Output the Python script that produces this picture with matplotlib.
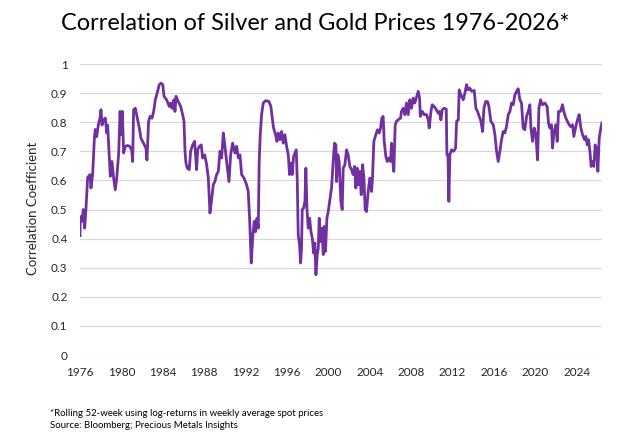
import matplotlib
matplotlib.use("Agg")
import matplotlib.pyplot as plt
import numpy as np

plt.rcParams['font.family'] = ['Lato', 'DejaVu Sans']

# rolling correlation (decimal year, coefficient)
years = [
    1976.00, 1976.03, 1976.19, 1976.32, 1976.45, 1976.58, 1976.74, 1976.97, 1977.06, 1977.22,
    1977.39, 1977.48, 1977.61, 1977.77, 1977.93, 1978.03, 1978.13, 1978.25, 1978.45, 1978.58,
    1978.67, 1978.83, 1978.93, 1979.09, 1979.25, 1979.41, 1979.55, 1979.74, 1979.87, 1980.00,
    1980.09, 1980.22, 1980.38, 1980.61, 1980.80, 1980.99, 1981.09, 1981.18, 1981.35, 1981.51,
    1981.73, 1981.89, 1982.05, 1982.22, 1982.38, 1982.47, 1982.63, 1982.77, 1982.96, 1983.12,
    1983.28, 1983.50, 1983.66, 1983.82,
    1984.00, 1984.12, 1984.37, 1984.63, 1984.76, 1984.89, 1985.08, 1985.18, 1985.28, 1985.50,
    1985.73, 1985.92, 1986.05, 1986.15, 1986.24, 1986.37, 1986.56, 1986.69, 1986.89, 1987.08,
    1987.27, 1987.37, 1987.53, 1987.72, 1987.85, 1988.05, 1988.24, 1988.40, 1988.56, 1988.72,
    1988.88, 1989.04, 1989.20, 1989.37, 1989.53, 1989.69, 1989.85, 1990.01, 1990.17, 1990.40,
    1990.56, 1990.75, 1990.98, 1991.14, 1991.30, 1991.46, 1991.62, 1991.85,
    1992.10, 1992.26, 1992.39, 1992.55, 1992.71, 1992.84, 1992.97, 1993.10, 1993.23, 1993.32,
    1993.42, 1993.55, 1993.71, 1993.94, 1994.26, 1994.45, 1994.58, 1994.71, 1994.90, 1995.03,
    1995.16, 1995.32, 1995.48, 1995.64, 1995.80, 1995.97, 1996.13, 1996.25, 1996.38, 1996.51,
    1996.64, 1996.77, 1996.90, 1997.00, 1997.09, 1997.22, 1997.32, 1997.41, 1997.48, 1997.61,
    1997.74, 1997.83, 1997.93, 1998.06, 1998.19, 1998.32, 1998.45, 1998.58, 1998.70, 1998.80,
    1998.93, 1999.03, 1999.12, 1999.25, 1999.38, 1999.51, 1999.60, 1999.73, 1999.86, 1999.99,
    2000.31, 2000.47, 2000.60, 2000.73, 2000.79, 2000.92, 2001.05, 2001.21, 2001.34, 2001.44,
    2001.60, 2001.76, 2001.92, 2002.08, 2002.24, 2002.40, 2002.53, 2002.66, 2002.79, 2002.92,
    2003.05, 2003.18, 2003.31, 2003.44, 2003.56, 2003.69, 2003.85, 2004.01, 2004.18, 2004.27,
    2004.40, 2004.59, 2004.75, 2004.92, 2005.05, 2005.17, 2005.30, 2005.40, 2005.56, 2005.69,
    2005.85, 2006.01, 2006.11, 2006.20, 2006.33, 2006.46, 2006.59, 2006.75, 2006.98, 2007.07,
    2007.24, 2007.40, 2007.56, 2007.72, 2007.88, 2008.04, 2008.20, 2008.36,
    2008.69, 2008.82, 2008.89, 2009.08, 2009.27, 2009.50, 2009.66, 2009.75, 2009.92, 2010.04,
    2010.24, 2010.43, 2010.62, 2010.75, 2010.88, 2011.01, 2011.20, 2011.40, 2011.46, 2011.56,
    2011.65, 2011.75, 2011.91, 2012.11, 2012.30, 2012.40, 2012.56, 2012.65, 2012.81, 2013.04,
    2013.20, 2013.36, 2013.52, 2013.68, 2013.85, 2014.10, 2014.26, 2014.42, 2014.59, 2014.75,
    2014.91, 2015.04, 2015.20, 2015.39, 2015.52, 2015.71, 2015.94, 2016.10, 2016.26, 2016.42,
    2016.58, 2016.74, 2016.90, 2017.06, 2017.22, 2017.39, 2017.55, 2017.71, 2017.87, 2018.03,
    2018.19, 2018.35, 2018.51, 2018.67, 2018.83, 2018.99, 2019.16, 2019.32, 2019.48, 2019.58,
    2019.74, 2019.90, 2020.06, 2020.22, 2020.35, 2020.51, 2020.70, 2020.93, 2021.15, 2021.28,
    2021.41, 2021.57, 2021.67, 2021.80, 2021.99, 2022.12, 2022.25, 2022.44, 2022.63, 2022.80,
    2022.96, 2023.18, 2023.41, 2023.60, 2023.73, 2023.92, 2024.08, 2024.24, 2024.41, 2024.57,
    2024.76, 2024.89, 2025.02, 2025.15, 2025.28, 2025.40, 2025.53, 2025.66, 2025.79, 2025.92,
    2026.05, 2026.18, 2026.34, 2026.44,
]
corr = [
    0.410, 0.476, 0.460, 0.500, 0.436, 0.505, 0.610, 0.620, 0.574, 0.620,
    0.745, 0.775, 0.750, 0.790, 0.814, 0.843, 0.790, 0.808, 0.814, 0.763,
    0.790, 0.680, 0.614, 0.665, 0.608, 0.568, 0.608, 0.694, 0.837, 0.757,
    0.837, 0.694, 0.717, 0.720, 0.717, 0.705, 0.665, 0.843, 0.848, 0.820,
    0.780, 0.745, 0.734, 0.722, 0.710, 0.670, 0.803, 0.820, 0.814, 0.837,
    0.877, 0.906, 0.929, 0.934,
    0.929, 0.889, 0.877, 0.854, 0.866, 0.848, 0.877, 0.837, 0.889, 0.871,
    0.854, 0.826, 0.803, 0.700, 0.660, 0.642, 0.637, 0.700, 0.722, 0.734,
    0.637, 0.705, 0.717, 0.722, 0.677, 0.688, 0.654, 0.608, 0.488, 0.533,
    0.585, 0.596, 0.620, 0.631, 0.700, 0.677, 0.763, 0.717, 0.665, 0.596,
    0.688, 0.728, 0.694, 0.717, 0.677, 0.688, 0.620, 0.608,
    0.585, 0.562, 0.470, 0.316, 0.413, 0.459, 0.424, 0.470, 0.436, 0.665,
    0.757, 0.826, 0.866, 0.874, 0.871, 0.854, 0.814, 0.780, 0.757, 0.734,
    0.763, 0.740, 0.768, 0.728, 0.757, 0.717, 0.688, 0.620, 0.660, 0.620,
    0.682, 0.694, 0.705, 0.596, 0.413, 0.379, 0.316, 0.368, 0.500, 0.505,
    0.528, 0.642, 0.505, 0.436, 0.470, 0.424, 0.402, 0.350, 0.385, 0.276,
    0.345, 0.368, 0.470, 0.390, 0.436, 0.345, 0.442, 0.356, 0.470, 0.493,
    0.574, 0.665, 0.728, 0.722, 0.596, 0.688, 0.665, 0.528, 0.500, 0.642,
    0.654, 0.705, 0.688, 0.648, 0.637, 0.620, 0.648, 0.574, 0.642, 0.585,
    0.631, 0.551, 0.654, 0.608, 0.500, 0.493, 0.562, 0.608, 0.562, 0.608,
    0.734, 0.757, 0.774, 0.763, 0.780, 0.814, 0.820, 0.734, 0.682, 0.665,
    0.677, 0.665, 0.728, 0.677, 0.631, 0.790, 0.803, 0.808, 0.814, 0.837,
    0.848, 0.826, 0.866, 0.826, 0.877, 0.848, 0.883, 0.866,
    0.906, 0.883, 0.820, 0.837, 0.826, 0.826, 0.808, 0.780, 0.837, 0.860,
    0.854, 0.843, 0.831, 0.837, 0.808, 0.843, 0.848, 0.845, 0.688, 0.688,
    0.528, 0.688, 0.705, 0.700, 0.711, 0.803, 0.808, 0.911, 0.894, 0.877,
    0.900, 0.929, 0.911, 0.917, 0.906, 0.909, 0.848, 0.837, 0.820, 0.803,
    0.768, 0.848, 0.871, 0.871, 0.854, 0.803, 0.791, 0.757, 0.700, 0.665,
    0.700, 0.740, 0.768, 0.763, 0.785, 0.826, 0.837, 0.866, 0.860, 0.894,
    0.906, 0.915, 0.877, 0.866, 0.780, 0.774, 0.820, 0.837, 0.860, 0.780,
    0.734, 0.780, 0.757, 0.670, 0.848, 0.877, 0.860, 0.866, 0.854, 0.797,
    0.780, 0.791, 0.711, 0.763, 0.791, 0.734, 0.837, 0.837, 0.860, 0.831,
    0.814, 0.797, 0.785, 0.791, 0.751, 0.785, 0.808, 0.826, 0.780, 0.757,
    0.740, 0.751, 0.722, 0.740, 0.700, 0.648, 0.665, 0.648, 0.722, 0.711,
    0.631, 0.745, 0.780, 0.797,
]

xticks = list(range(1976, 2025, 4))
yticks = [0, 0.1, 0.2, 0.3, 0.4, 0.5, 0.6, 0.7, 0.8, 0.9, 1]
ytick_labels = ['0', '0.1', '0.2', '0.3', '0.4', '0.5', '0.6', '0.7', '0.8', '0.9', '1']

fig = plt.figure(figsize=(6.4, 4.41), dpi=100)
ax = fig.add_axes([80 / 640, 1 - 355 / 441, 522 / 640, 291 / 441])

ax.plot(years, corr, color='#7030A0', lw=2.0, solid_joinstyle='round')

ax.set_xlim(1976, 2026.45)
ax.set_ylim(0, 1)
ax.set_xticks(xticks)
ax.set_xticklabels([str(y) for y in xticks])
ax.set_yticks(yticks)
ax.set_yticklabels(ytick_labels)
ax.tick_params(axis='both', length=0, labelsize=8.5, colors='#262626')
ax.tick_params(axis='x', pad=8.5)
ax.tick_params(axis='y', pad=9)

ax.grid(axis='y', color='#D9D9D9', lw=0.9)
ax.set_axisbelow(True)
for s in ax.spines.values():
    s.set_visible(False)

fig.text(315 / 640, 1 - 24 / 441, 'Correlation of Silver and Gold Prices 1976-2026*',
         ha='center', va='center', fontsize=16.9, color='#000000')
fig.text(33 / 640, 1 - 208 / 441, 'Correlation Coefficient', rotation=90,
         ha='center', va='center', fontsize=9.5, color='#262626')
fig.text(50 / 640, 1 - 413 / 441, '*Rolling 52-week using log-returns in weekly average spot prices',
         ha='left', va='center', fontsize=6.9, color='#000000')
fig.text(50 / 640, 1 - 425 / 441, 'Source: Bloomberg; Precious Metals Insights',
         ha='left', va='center', fontsize=6.9, color='#000000')

fig.savefig('out.png', dpi=100, facecolor='white')
